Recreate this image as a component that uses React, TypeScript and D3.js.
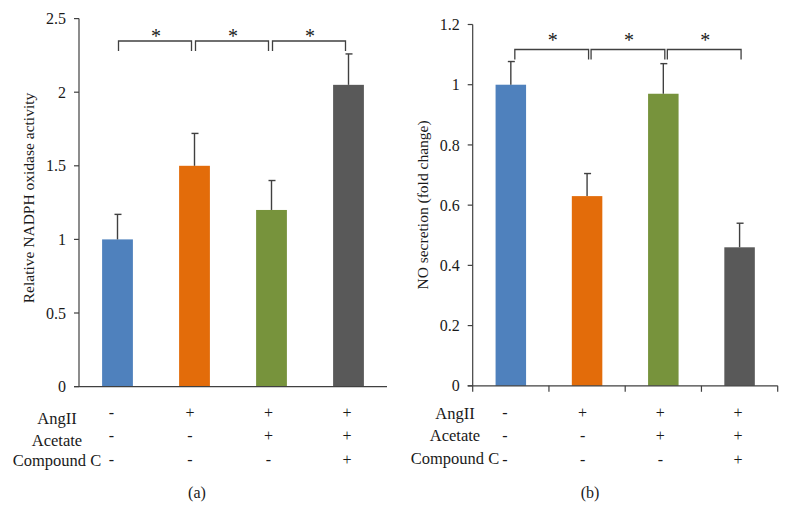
import React from "react";
import * as d3 from "d3";

const groups = ["G1", "G2", "G3", "G4"];
const barColors = ["#4F81BD", "#E36C0A", "#77933C", "#595959"];

const nadphValues = [1.0, 1.5, 1.2, 2.05];
const nadphErrors = [0.17, 0.22, 0.2, 0.21];
const nadphTicks = [0, 0.5, 1, 1.5, 2, 2.5];

const noValues = [1.0, 0.63, 0.97, 0.46];
const noErrors = [0.077, 0.075, 0.1, 0.08];
const noTicks = [0, 0.2, 0.4, 0.6, 0.8, 1, 1.2];

const treatmentRows = ["AngII", "Acetate", "Compound C"];
const treatmentSigns = [
  ["-", "+", "+", "+"],
  ["-", "-", "+", "+"],
  ["-", "-", "-", "+"],
];
const sigPairs: [number, number][] = [
  [0, 1],
  [1, 2],
  [2, 3],
];

const FONT = "'Liberation Serif', 'Times New Roman', serif";
const INK = "#1a1a1a";
const AXIS = "#404040";

type PanelProps = {
  values: number[];
  errors: number[];
  ticks: number[];
  yMax: number;
  x0: number;
  x1: number;
  yBottom: number;
  yTop: number;
  yLabel: string;
  yLabelX: number;
  yLabelY: number;
  bracketY: number;
  starY: number;
  bracketStart: number;
  bracketEnd: number;
  catTicks: boolean;
  rowLabelX: number;
  rowLabelYs: number[];
  panelLabel: string;
  panelLabelX: number;
};

function Panel(p: PanelProps) {
  const x = d3
    .scaleBand<string>()
    .domain(groups)
    .range([p.x0, p.x1])
    .paddingInner(0.6)
    .paddingOuter(0.3);
  const y = d3.scaleLinear().domain([0, p.yMax]).range([p.yBottom, p.yTop]);
  const bw = x.bandwidth();
  const cx = (i: number) => (x(groups[i]) as number) + bw / 2;
  const step = x.step();
  const signYs = [418, 441, 465];

  return (
    <g>
      {groups.map((g, i) => (
        <rect
          key={g}
          x={x(g)}
          y={y(p.values[i])}
          width={bw}
          height={y(0) - y(p.values[i])}
          fill={barColors[i]}
        />
      ))}
      {groups.map((g, i) => {
        const top = y(p.values[i] + p.errors[i]);
        return (
          <g key={"e" + g} stroke={AXIS} strokeWidth={1.4}>
            <line x1={cx(i)} x2={cx(i)} y1={y(p.values[i])} y2={top} />
            <line x1={cx(i) - 3} x2={cx(i) + 4} y1={top} y2={top} />
          </g>
        );
      })}
      <line x1={p.x0} x2={p.x0} y1={y(0)} y2={y(p.yMax)} stroke={AXIS} strokeWidth={1.2} />
      {p.ticks.map((t) => (
        <g key={"t" + t}>
          <line x1={p.x0 - 5} x2={p.x0} y1={y(t)} y2={y(t)} stroke={AXIS} strokeWidth={1.2} />
          <text
            x={p.x0 - 13}
            y={y(t)}
            dy="0.35em"
            textAnchor="end"
            fontFamily={FONT}
            fontSize={16}
            fill={INK}
          >
            {String(t)}
          </text>
        </g>
      ))}
      <line x1={p.x0 - 5} x2={p.x1} y1={y(0)} y2={y(0)} stroke={AXIS} strokeWidth={1.2} />
      {p.catTicks &&
        d3.range(groups.length + 1).map((k) => (
          <line
            key={"c" + k}
            x1={p.x0 + k * step}
            x2={p.x0 + k * step}
            y1={y(0)}
            y2={y(0) + 6}
            stroke={AXIS}
            strokeWidth={1.2}
          />
        ))}
      <text
        transform={`translate(${p.yLabelX},${p.yLabelY}) rotate(-90)`}
        textAnchor="middle"
        dy="0.35em"
        fontFamily={FONT}
        fontSize={15.5}
        fill={INK}
      >
        {p.yLabel}
      </text>
      {sigPairs.map(([a, b], k) => {
        const xa = cx(a) + p.bracketStart;
        const xb = cx(b) + p.bracketEnd;
        const yb = p.bracketY;
        return (
          <g key={"s" + k}>
            <path
              d={`M${xa},${yb + 10}V${yb}H${xb}V${yb + 10}`}
              fill="none"
              stroke={AXIS}
              strokeWidth={1.3}
            />
            <text
              x={(xa + xb) / 2 + 1}
              y={p.starY}
              textAnchor="middle"
              fontFamily={FONT}
              fontSize={20}
              fill={INK}
            >
              *
            </text>
          </g>
        );
      })}
      {treatmentRows.map((r, ri) => (
        <g key={r}>
          <text
            x={p.rowLabelX}
            y={p.rowLabelYs[ri]}
            textAnchor="middle"
            fontFamily={FONT}
            fontSize={16.5}
            fill={INK}
          >
            {r}
          </text>
          {treatmentSigns[ri].map((s, ci) => (
            <text
              key={ci}
              x={cx(ci) - 6 + 1.5 * ci}
              y={signYs[ri]}
              textAnchor="middle"
              fontFamily={FONT}
              fontSize={16}
              fill={INK}
            >
              {s}
            </text>
          ))}
        </g>
      ))}
      <text
        x={p.panelLabelX}
        y={498}
        textAnchor="middle"
        fontFamily={FONT}
        fontSize={16}
        fill={INK}
      >
        {p.panelLabel}
      </text>
    </g>
  );
}

export default function App() {
  return (
    <svg
      width={789}
      height={525}
      style={{ position: "absolute", left: 0, top: 0, background: "#fff" }}
    >
      <rect width={789} height={525} fill="#fff" />
      <Panel
        values={nadphValues}
        errors={nadphErrors}
        ticks={nadphTicks}
        yMax={2.5}
        x0={79}
        x1={387}
        yBottom={386.6}
        yTop={18.6}
        yLabel="Relative NADPH oxidase activity"
        yLabelX={29}
        yLabelY={198}
        bracketY={41}
        starY={43}
        bracketStart={1}
        bracketEnd={-3}
        catTicks={false}
        rowLabelX={57}
        rowLabelYs={[424, 446, 466]}
        panelLabel="(a)"
        panelLabelX={197}
      />
      <Panel
        values={noValues}
        errors={noErrors}
        ticks={noTicks}
        yMax={1.2}
        x0={472.7}
        x1={777.7}
        yBottom={385.8}
        yTop={24.5}
        yLabel="NO secretion (fold change)"
        yLabelX={423}
        yLabelY={205}
        bracketY={49.5}
        starY={47}
        bracketStart={4}
        bracketEnd={1.5}
        catTicks={true}
        rowLabelX={455}
        rowLabelYs={[419, 441, 464]}
        panelLabel="(b)"
        panelLabelX={590}
      />
    </svg>
  );
}
